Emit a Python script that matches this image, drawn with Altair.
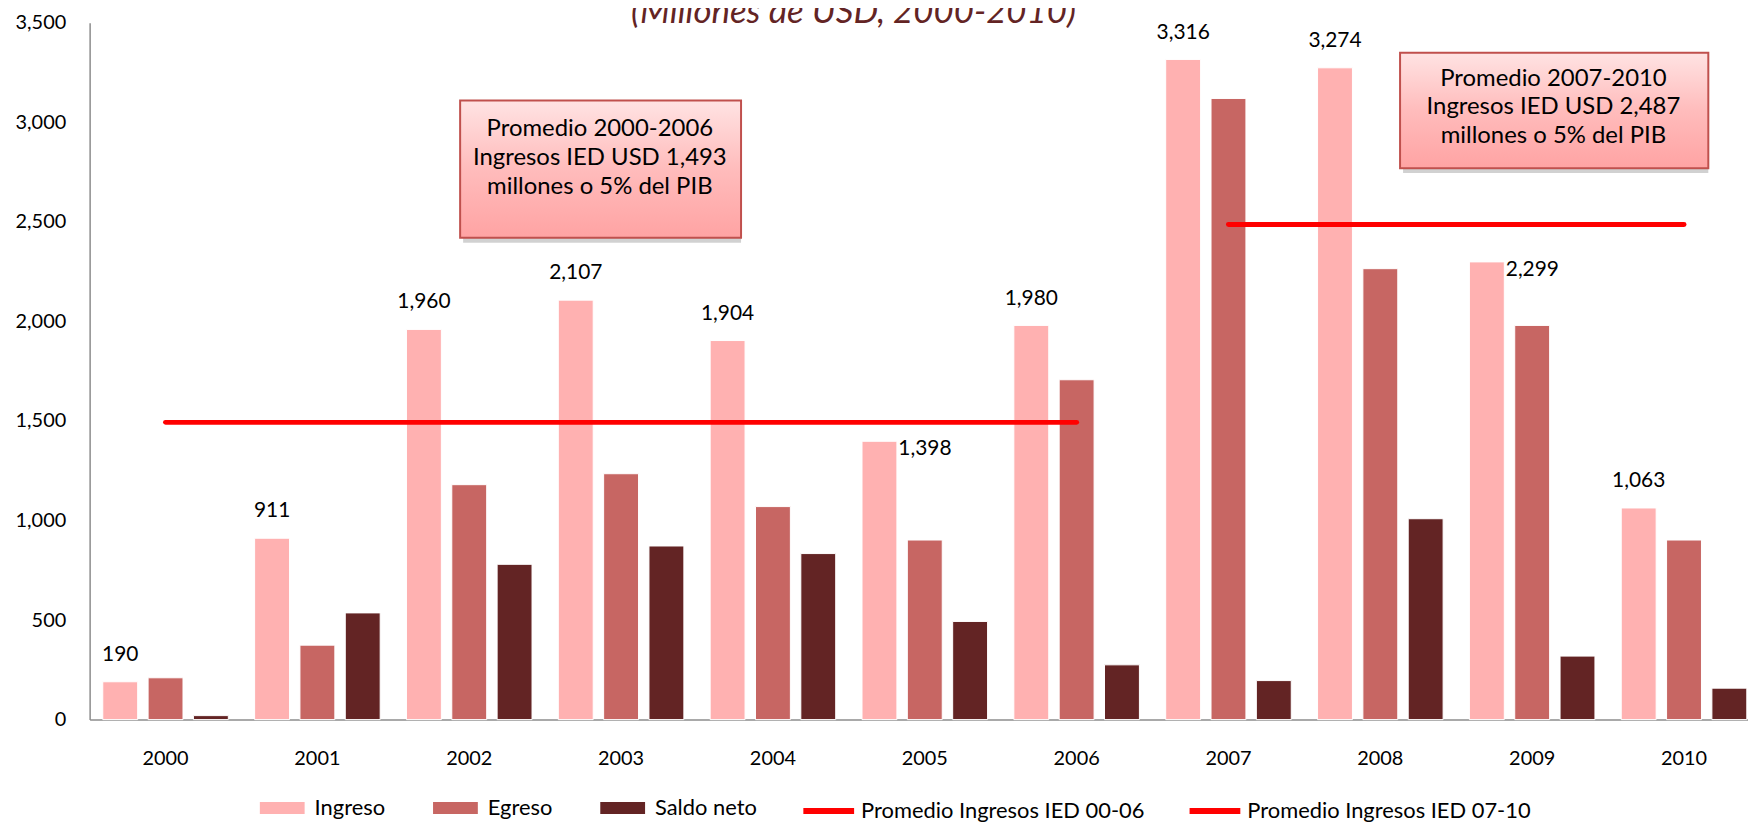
import altair as alt
import pandas as pd

# ---------------- data ----------------
years = [str(y) for y in range(2000, 2011)]
ingreso = [190, 911, 1960, 2107, 1904, 1398, 1980, 3316, 3274, 2299, 1063]
egreso = [210, 374, 1180, 1235, 1070, 902, 1707, 3120, 2265, 1980, 902]
saldo = [20, 536, 780, 872, 834, 493, 275, 196, 1009, 319, 158]

series_names = ["Ingreso", "Egreso", "Saldo neto"]
series_colors = ["#ffb1b1", "#c76663", "#632424"]

side_label_years = ["2005", "2009"]

avg_names = ["Promedio Ingresos IED 00-06", "Promedio Ingresos IED 07-10"]
avg_values = [1493, 2487]
avg_year_groups = [years[0:7], years[7:11]]

box_texts = [
    "Promedio 2000-2006\nIngresos IED USD 1,493\nmillones o 5% del PIB",
    "Promedio 2007-2010\nIngresos IED USD 2,487\nmillones o 5% del PIB",
]
box_x1 = [1.94, 8.13]
box_x2 = [3.79, 10.16]
box_y1 = [2420, 2770]
box_y2 = [3110, 3350]
box_text_x = [2.86, 9.14]
box_text_y = [2965, 3220]

title_text = "(Millones de  USD, 2000-2010)"
title_x = [4.53]
title_y = [3500]

# ---------------- tables ----------------
bars = pd.DataFrame(
    [(y, s, v) for s, vals in zip(series_names, [ingreso, egreso, saldo]) for y, v in zip(years, vals)],
    columns=["year", "serie", "value"],
)
lab = pd.DataFrame({"year": years, "serie": "Ingreso", "value": ingreso})
lab["label"] = lab["value"].map(lambda v: f"{v:,}")
lab_top = lab[~lab["year"].isin(side_label_years)]
lab_side = lab[lab["year"].isin(side_label_years)]

lines = pd.DataFrame(
    [(y, n, v) for n, v, ys in zip(avg_names, avg_values, avg_year_groups) for y in ys],
    columns=["year", "avg", "value"],
)
boxes = pd.DataFrame({"x1": box_x1, "x2": box_x2, "y1": box_y1, "y2": box_y2,
                      "tx": box_text_x, "ty": box_text_y, "text": box_texts})
title_df = pd.DataFrame({"x": title_x, "y": title_y, "text": [title_text]})

# ---------------- layout ----------------
FONT = "Lato"
PLOT_W = 1678   # full band range (last band runs off the page as in the reference)
VIEW_W = 1666
VIEW_H = 700

x_band = alt.Scale(domain=years, paddingInner=0, paddingOuter=0, range=[0, PLOT_W])
x_axis = alt.Axis(title=None, labelAngle=0, ticks=False, labelPadding=29,
                  domainColor="#8c8c8c", domainWidth=1.5, labelFont=FONT, labelFontSize=20,
                  labelColor="#000000")
y_scale = alt.Scale(domain=[0, 3500], nice=False, zero=True)
y_axis = alt.Axis(title=None, values=list(range(0, 3501, 500)), format=",.0f", grid=False,
                  ticks=False, labelPadding=24, domainColor="#8c8c8c", domainWidth=1.5,
                  labelFont=FONT, labelFontSize=20, labelColor="#000000")
xoff = alt.Scale(domain=series_names, paddingInner=0.23, paddingOuter=0.29)

X = alt.X("year:N", sort=years, scale=x_band, axis=x_axis)
XO = alt.XOffset("serie:N", scale=xoff)
Y = alt.Y("value:Q", scale=y_scale, axis=y_axis)

bar_layer = alt.Chart(bars).mark_bar(stroke="#ffffff", strokeWidth=1).encode(
    x=X, xOffset=XO, y=Y,
    color=alt.Color("serie:N", sort=series_names,
                    scale=alt.Scale(domain=series_names, range=series_colors),
                    legend=alt.Legend(title=None, orient="none", direction="horizontal",
                                      legendX=171, legendY=766,
                                      symbolType="M-1,-0.27H1V0.27H-1Z", symbolSize=2025,
                                      symbolStrokeWidth=0, labelOffset=10, columnPadding=48,
                                      labelLimit=0,
                                      labelFont=FONT, labelFontSize=22, labelColor="#000000")),
)

line_layer = alt.Chart(lines).mark_line(strokeWidth=5, strokeCap="round").encode(
    x=X, y=Y,
    stroke=alt.Stroke("avg:N", sort=avg_names,
                      scale=alt.Scale(domain=avg_names, range=["#ff0000", "#ff0000"]),
                      legend=alt.Legend(title=None, orient="none", direction="horizontal",
                                        legendX=714, legendY=763, symbolType="stroke",
                                        symbolSize=2600, symbolStrokeWidth=6,
                                        labelOffset=4, columnPadding=33, labelLimit=0,
                                        labelFont=FONT, labelFontSize=22, labelColor="#000000")),
)

top_labels = alt.Chart(lab_top).mark_text(font=FONT, fontSize=21, color="#000000",
                                          baseline="middle", dy=-27).encode(
    x=X, xOffset=XO, y=Y, text="label:N")

side_labels = alt.Chart(lab_side).mark_text(font=FONT, fontSize=21, color="#000000",
                                            baseline="middle", align="left", dx=19, dy=8).encode(
    x=X, xOffset=XO, y=Y, text="label:N")

band_layers = alt.layer(bar_layer, line_layer, top_labels, side_labels)

# continuous-x annotation layers
xq = alt.Scale(domain=[-0.5, 10.5], range=[0, PLOT_W], nice=False, zero=False)

box_shadow = alt.Chart(boxes).mark_rect(color="#000000", opacity=0.18, xOffset=3, yOffset=5).encode(
    x=alt.X("x1:Q", scale=xq, axis=None), x2="x2:Q",
    y=alt.Y("y1:Q", scale=y_scale, axis=y_axis), y2="y2:Q")

box_rect = alt.Chart(boxes).mark_rect(
    stroke="#c0504d", strokeWidth=2,
    fill=alt.Gradient(gradient="linear", x1=0, y1=0, x2=0, y2=1,
                      stops=[alt.GradientStop(color="#ffe3e3", offset=0),
                             alt.GradientStop(color="#ffbcbc", offset=0.5),
                             alt.GradientStop(color="#ffa3a3", offset=1)]),
).encode(
    x=alt.X("x1:Q", scale=xq, axis=None), x2="x2:Q",
    y=alt.Y("y1:Q", scale=y_scale, axis=y_axis), y2="y2:Q")

box_text = alt.Chart(boxes).mark_text(font=FONT, fontSize=24, color="#000000", lineBreak="\n",
                                      lineHeight=29, baseline="middle", align="center").encode(
    x=alt.X("tx:Q", scale=xq, axis=None),
    y=alt.Y("ty:Q", scale=y_scale, axis=y_axis), text="text:N")

title_layer = alt.Chart(title_df).mark_text(font=FONT, fontSize=35, fontStyle="italic",
                                            color="#632424", baseline="alphabetic",
                                            align="center").encode(
    x=alt.X("x:Q", scale=xq, axis=None),
    y=alt.Y("y:Q", scale=y_scale, axis=y_axis), text="text:N")

annot_layers = alt.layer(box_shadow, box_rect, box_text, title_layer)

chart = alt.layer(band_layers, annot_layers).resolve_scale(x="independent").properties(
    width=VIEW_W, height=VIEW_H,
    autosize=alt.AutoSizeParams(type="none"),
    padding={"left": 82, "top": 13, "right": 0, "bottom": 102},
    background="#ffffff",
).configure_view(stroke=None)

chart.save("out.html", embed_options={"renderer": "svg", "actions": False})
